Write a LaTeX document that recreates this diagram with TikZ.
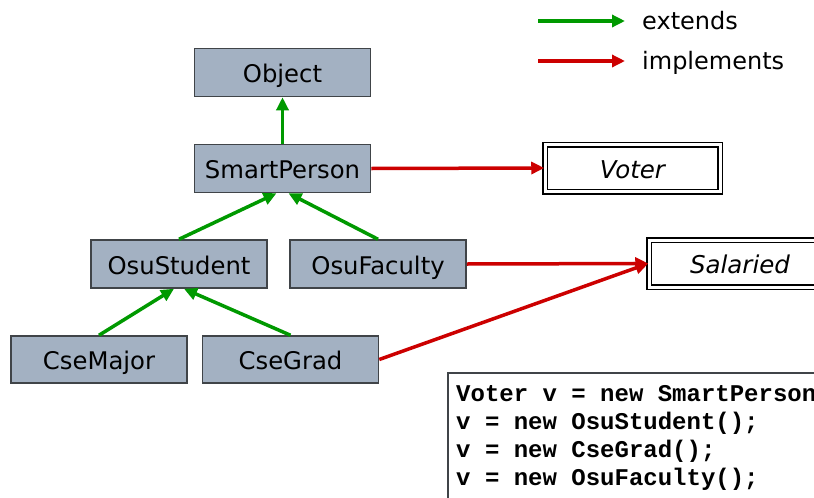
\documentclass[tikz,border=0pt]{standalone}
\usepackage{fontspec}
\setmainfont{DejaVu Sans}
\newfontfamily\codefont{Liberation Mono}
\usetikzlibrary{arrows.meta}
\definecolor{boxfill}{HTML}{A3B1C2}
\definecolor{boxline}{HTML}{404448}
\definecolor{extgreen}{HTML}{009900}
\definecolor{implred}{HTML}{CC0000}
\tikzset{
  cls/.style={draw=boxline, line width=1.5pt, fill=boxfill, minimum width=176pt, minimum height=48pt, inner sep=0pt, text height=20pt, text depth=0pt, font=\fontsize{24.3}{28}\selectfont},
  iface/.style={draw=black, double=white, double distance=3pt, line width=1.5pt, minimum height=47pt, inner sep=0pt, text height=20pt, text depth=0pt, font=\fontsize{24.5}{28}\selectfont\itshape},
  ext/.style={draw=extgreen, line width=3.5pt, -{Triangle[length=13pt,width=12pt]}},
  impl/.style={draw=implred, line width=3.5pt, -{Triangle[length=13pt,width=12pt]}},
  legtext/.style={anchor=base west, inner sep=0pt, font=\fontsize{24}{28}\selectfont},
  codeline/.style={anchor=base west, inner sep=0pt, font=\codefont\bfseries\fontsize{24}{28}\selectfont},
}
\begin{document}
\begin{tikzpicture}[x=1pt,y=-1pt]
\useasboundingbox (0,0) rectangle (814,498);
\clip (0,0) rectangle (814,498);
\fill[white] (0,0) rectangle (814,498);

% legend
\coordinate (l1a) at (538,21);
\coordinate (l1b) at (625,21);
\coordinate (l2a) at (538,61);
\coordinate (l2b) at (625,61);
\draw[ext] (l1a) -- (l1b);
\draw[impl] (l2a) -- (l2b);
\node[legtext] (lext) at (642,29) {extends};
\node[legtext] (limpl) at (642,69) {implements};

% classes
\node[cls] (object) at (282.5,72.5) {Object};
\node[cls] (smartperson) at (282.5,168.5) {SmartPerson};
\node[cls] (osustudent) at (179,264) {OsuStudent};
\node[cls] (osufaculty) at (378,264) {OsuFaculty};
\node[cls, minimum height=47pt] (csemajor) at (99,359.5) {CseMajor};
\node[cls, minimum height=47pt] (csegrad) at (290.5,359.5) {CseGrad};

% interfaces
\node[iface, minimum width=175pt] (voter) at (632.5,168) {Voter};
\node[iface, minimum width=182pt] (salaried) at (740,263.5) {Salaried};

% extends
\draw[ext] (smartperson.north) -- (object.south);
\draw[ext] (osustudent.north) -- ([xshift=-6pt]smartperson.south);
\draw[ext] (osufaculty.north) -- ([xshift=6pt]smartperson.south);
\draw[ext] (csemajor.north) -- ([xshift=-5pt]osustudent.south);
\draw[ext] (csegrad.north) -- ([xshift=5pt]osustudent.south);

% implements
\draw[impl] (smartperson.east) -- (voter.west);
\draw[impl] (osufaculty.east) -- (salaried.west);
\draw[impl] (csegrad.east) -- (salaried.west);

% code
\draw[draw=boxline, line width=1.2pt, fill=white] (448,373) rectangle (860,520);
\node[codeline] (c1) at (456,401) {Voter v = new SmartPerson();};
\node[codeline] (c2) at (456,429) {v = new OsuStudent();};
\node[codeline] (c3) at (456,457) {v = new CseGrad();};
\node[codeline] (c4) at (456,485) {v = new OsuFaculty();};
\end{tikzpicture}
\end{document}
